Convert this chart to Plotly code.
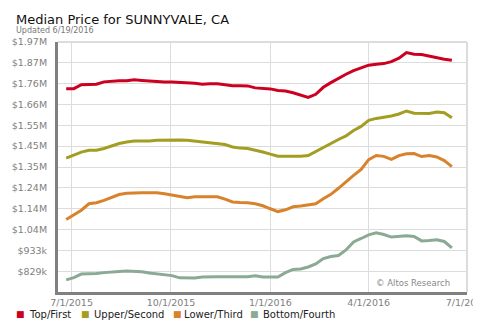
import pandas as pd
import plotly.graph_objects as go

# ---- data (values in $ thousands), weekly ----
dates = pd.date_range("2015-06-26", periods=52, freq="7D")

top_first = [1738, 1738, 1758, 1760, 1760, 1772, 1776, 1777, 1777, 1782,
             1779, 1776, 1775, 1771, 1771, 1770, 1767, 1765, 1760, 1763,
             1762, 1758, 1753, 1753, 1752, 1742, 1739, 1737, 1729, 1726,
             1718, 1708, 1695, 1710, 1745, 1768, 1790, 1810, 1828, 1843,
             1855, 1860, 1863, 1873, 1890, 1918, 1910, 1908, 1900, 1893,
             1885, 1880]

upper_second = [1392, 1408, 1422, 1431, 1431, 1440, 1451, 1465, 1472, 1477,
                1477, 1477, 1481, 1482, 1482, 1482, 1481, 1477, 1474, 1470,
                1466, 1460, 1448, 1442, 1440, 1432, 1423, 1412, 1402, 1401,
                1401, 1401, 1405, 1425, 1445, 1468, 1485, 1503, 1530, 1550,
                1580, 1590, 1596, 1602, 1612, 1627, 1616, 1615, 1615, 1622,
                1618, 1593]

lower_third = [1087, 1110, 1133, 1165, 1170, 1182, 1197, 1211, 1217, 1220,
               1220, 1220, 1220, 1215, 1208, 1200, 1195, 1200, 1201, 1201,
               1200, 1188, 1174, 1171, 1170, 1165, 1155, 1140, 1126, 1135,
               1150, 1154, 1160, 1165, 1190, 1212, 1242, 1275, 1306, 1336,
               1385, 1405, 1401, 1386, 1405, 1414, 1415, 1400, 1405, 1398,
               1380, 1350]

bottom_fourth = [786, 797, 815, 816, 818, 822, 826, 828, 830, 829,
                 826, 820, 815, 812, 807, 796, 795, 795, 800, 802,
                 802, 802, 802, 802, 802, 806, 800, 800, 800, 822,
                 838, 840, 850, 865, 892, 902, 907, 935, 975, 992,
                 1010, 1020, 1012, 999, 1004, 1006, 1002, 980, 982, 986,
                 977, 945]

series_names = ["Top/First", "Upper/Second", "Lower/Third", "Bottom/Fourth"]
series_values = [top_first, upper_second, lower_third, bottom_fourth]
series_colors = ["#cc0020", "#a39e22", "#d8822c", "#8aaa94"]

y_tick_vals = [829, 933, 1037, 1141, 1244, 1348, 1452, 1555, 1659, 1763, 1867, 1970]
y_tick_text = ["$829k", "$933k", "$1.04M", "$1.14M", "$1.24M", "$1.35M",
               "$1.45M", "$1.55M", "$1.66M", "$1.76M", "$1.87M", "$1.97M"]
x_tick_vals = ["2015-07-01", "2015-10-01", "2016-01-01", "2016-04-01", "2016-07-01"]
x_tick_text = ["7/1/2015", "10/1/2015", "1/1/2016", "4/1/2016", "7/1/2016"]

title_text = "Median Price for SUNNYVALE, CA"
subtitle_text = "Updated 6/19/2016"
credit_text = "© Altos Research"

# ---- layout geometry (pixels) ----
W, H = 500, 322
L, R, T, B = 55, 23, 42, 30
PW, PH = W - L - R, H - T - B
CANVAS_RIGHT = 483  # the original chart canvas ends here


def px_x(p):
    return (p - L) / PW


def px_y(p):
    return (H - B - p) / PH


FONT = "DejaVu Sans"

fig = go.Figure()
for name, vals, col in zip(series_names, series_values, series_colors):
    fig.add_trace(go.Scatter(x=dates, y=vals, mode="lines", name=name,
                             line=dict(color=col, width=3), showlegend=False))

fig.update_layout(
    width=W, height=H,
    margin=dict(l=L, r=R, t=T, b=B, pad=0),
    paper_bgcolor="white", plot_bgcolor="white",
    font=dict(family=FONT, size=10, color="#808080"),
    xaxis=dict(type="date", range=["2015-06-18 10:00", "2016-07-01"],
               tickvals=x_tick_vals, ticktext=x_tick_text,
               showgrid=True, gridcolor="#dcdcdc", gridwidth=1,
               showline=True, linecolor="#808080", linewidth=3,
               ticks="", tickfont=dict(size=9.5, color="#808080"),
               zeroline=False, fixedrange=True),
    yaxis=dict(range=[725.5, 1970.5],
               tickvals=y_tick_vals, ticktext=y_tick_text,
               showgrid=True, gridcolor="#dcdcdc", gridwidth=1,
               showline=True, linecolor="#808080", linewidth=3,
               ticks="", tickfont=dict(size=9.5, color="#808080"),
               ticklabelstandoff=6,
               zeroline=False, fixedrange=True),
    showlegend=False,
)

# top and right light borders
fig.add_shape(type="line", xref="paper", yref="paper", x0=0, x1=1, y0=1, y1=1,
              line=dict(color="#dcdcdc", width=2))
fig.add_shape(type="line", xref="paper", yref="paper", x0=1, x1=1, y0=0, y1=1,
              line=dict(color="#dcdcdc", width=2))
# the original canvas is clipped on the right
fig.add_shape(type="rect", xref="paper", yref="paper", layer="above",
              x0=px_x(CANVAS_RIGHT), x1=px_x(W + 5), y0=px_y(H + 5), y1=px_y(-5),
              fillcolor="white", line=dict(width=0))

ann = []
ann.append(dict(text=title_text, xref="paper", yref="paper", x=px_x(10), y=px_y(19.5),
                xanchor="left", yanchor="middle", showarrow=False,
                font=dict(family=FONT, size=13, color="#111111")))
ann.append(dict(text=subtitle_text, xref="paper", yref="paper", x=px_x(10), y=px_y(31),
                xanchor="left", yanchor="middle", showarrow=False,
                font=dict(family=FONT, size=8, color="#777777")))
ann.append(dict(text=credit_text, xref="paper", yref="paper", x=px_x(462), y=px_y(283),
                xanchor="right", yanchor="middle", showarrow=False,
                font=dict(family=FONT, size=8.5, color="#888888")))

legend_sq_x = [11, 78, 173, 252]
legend_tx_x = [24, 91.5, 183.5, 265]
for name, col, sx, tx in zip(series_names, series_colors, legend_sq_x, legend_tx_x):
    ann.append(dict(text="■", xref="paper", yref="paper", x=px_x(sx - 1), y=px_y(314),
                    xanchor="left", yanchor="middle", showarrow=False,
                    font=dict(family=FONT, size=9, color=col)))
    ann.append(dict(text=name, xref="paper", yref="paper", x=px_x(tx - 1), y=px_y(314),
                    xanchor="left", yanchor="middle", showarrow=False,
                    font=dict(family=FONT, size=10, color="#222222")))

fig.update_layout(annotations=ann)

fig.write_html("out.html", config={"displayModeBar": False})
